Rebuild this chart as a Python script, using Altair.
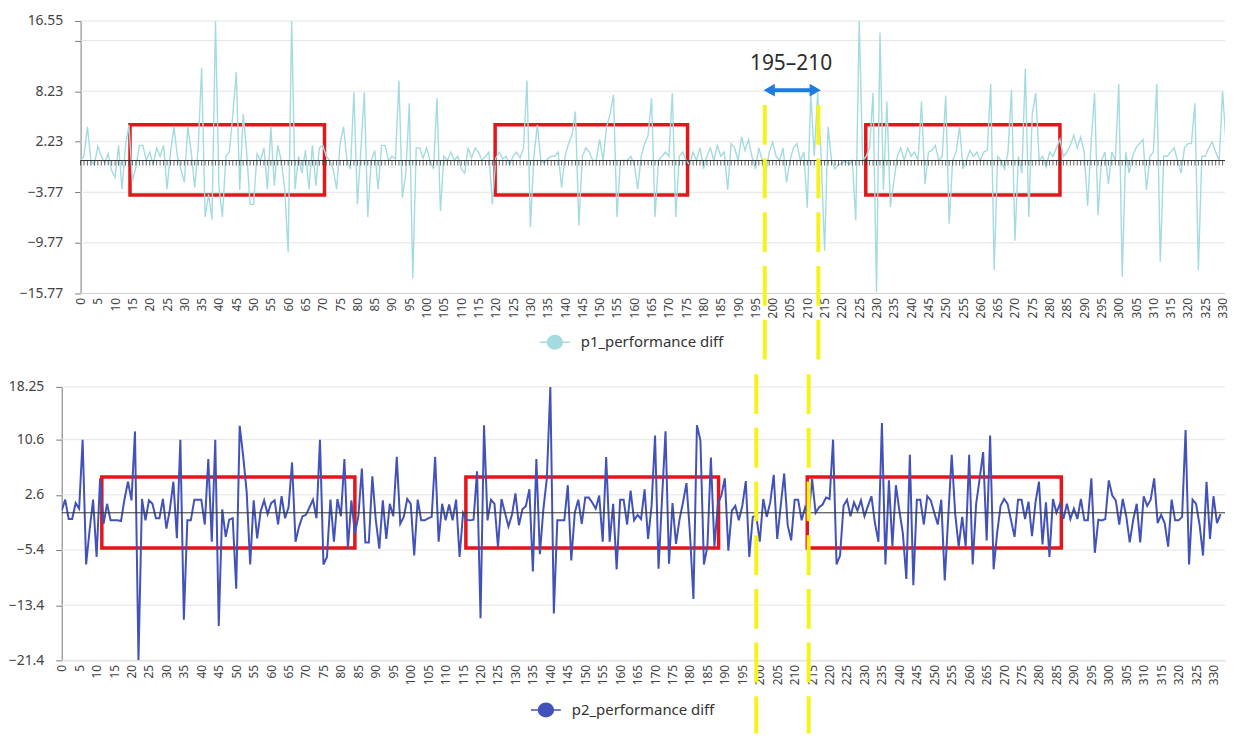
import altair as alt
import pandas as pd

# ---------------- data ----------------
P1 = [0.0, 0.5, 4.0, 0.0, -0.5, 1.7, 0.5, -0.3, 0.8, -1.2,
      -2.0, 1.8, -3.4, 1.8, 4.2, -2.4, -0.8, 1.8, 1.8, 0.0,
      1.0, -0.5, 1.5, 0.5, 1.8, -3.4, 1.0, 4.0, 0.5, -1.0,
      -2.6, 4.0, 1.0, -3.2, 1.5, 11.0, -6.7, -4.0, -7.0, 16.55,
      -3.2, -6.7, 0.5, 1.0, 5.4, 10.5, -3.5, 5.5, 1.0, -5.2,
      -5.2, 0.8, 0.0, 1.5, -3.4, 4.0, -3.0, 1.8, 0.0, -3.4,
      -10.9, 16.55, -3.4, 0.5, -1.5, 1.2, -3.4, 1.8, -3.0, 1.5,
      1.8, 0.5, 0.0, -1.0, -3.4, 2.0, 4.0, 0.0, -1.0, 8.1,
      -5.2, 1.2, 8.1, -6.7, 0.0, 1.2, -3.4, 1.8, 1.8, 0.0,
      0.5, 0.2, 9.5, -4.4, -1.5, 6.8, -14.0, 1.5, 1.5, 0.3,
      1.5, 0.0, -1.0, 7.4, -6.0, 0.5, 0.0, 1.0, 0.0, 0.5,
      -1.0, -1.5, 1.5, 0.3, 1.5, 1.0, 0.0, 0.5, 1.0, -5.2,
      0.3, 1.0, 0.2, 0.5, -0.5, 0.5, 1.0, 0.3, 1.5, 9.5,
      -7.9, 0.5, 4.2, 0.0, -0.3, 0.2, 0.5, 0.5, 1.0, -3.2,
      0.5, 2.0, 3.0, 5.8, -7.7, 0.5, 1.5, 1.0, 0.0, 0.0,
      2.5, 0.0, 4.0, 5.5, 7.8, -6.7, 0.0, 0.0, 0.0, 0.5,
      -0.5, -3.4, 0.5, 2.0, 3.0, 7.4, -6.7, 0.0, 0.5, 1.0,
      0.5, 8.0, -6.7, 0.5, 1.0, 0.0, -0.5, 1.0, 0.0, 1.5,
      -1.0, 0.5, 1.5, 0.0, 1.8, 0.5, 1.0, -3.5, 2.0, 1.5,
      0.0, 2.8, 1.2, 2.5, 0.5, -1.0, 1.5, 0.0, -1.5, 1.0,
      2.2, 0.5, 0.0, 1.5, -2.6, 0.0, 1.5, 2.0, 0.0, 1.0,
      -5.6, 8.0, 0.5, 8.0, 0.5, -10.7, 4.0, 0.0, -1.0, -0.5,
      -0.3, 0.0, -0.5, 0.0, -7.1, 16.55, 0.0, 0.5, 1.5, 8.0,
      -15.6, 15.2, -3.5, 7.0, -5.5, -2.5, 0.5, 1.5, 0.0, 1.5,
      0.5, 1.0, 0.0, 7.0, -2.8, 1.0, 1.2, 1.8, 0.0, 0.5,
      7.7, -7.5, 0.0, 1.0, 4.0, -1.0, 0.0, 1.2, 0.5, 1.0,
      0.0, 1.0, 1.2, 9.1, -13.0, 0.5, 0.0, -1.0, 1.0, 8.4,
      -9.5, 0.5, -1.5, 10.9, -6.7, 5.5, 8.0, 0.0, 0.5, -0.8,
      1.0, 0.5, 1.5, 2.5, 0.5, 1.0, 1.8, 3.0, 1.5, 2.8,
      1.0, -5.4, 2.0, 8.0, -6.5, 0.0, 1.0, -2.8, 1.0, 0.0,
      9.1, -13.8, 1.0, -1.5, 0.5, 1.5, 2.0, 2.5, -3.5, 0.5,
      1.0, 9.1, -12.0, 0.5, 0.5, 1.0, 1.5, 0.0, -1.5, 1.5,
      2.0, 2.0, 6.8, -13.0, 0.5, 0.5, 1.5, 2.2, 1.0, 0.0,
      8.2, 2.0, -6.0]

P2 = [0.3, 1.9, -0.9, -0.9, 1.4, 0.6, 10.6, -7.5, -2.5, 1.9,
      -6.4, 5.0, -1.6, 1.3, -1.1, -1.1, -1.1, -1.2, 2.0, 4.5,
      1.8, 11.8, -21.4, 2.0, -1.1, 1.8, 1.3, -0.8, -0.8, 2.0,
      -2.3, 0.5, 4.5, -3.7, 10.6, -15.5, -1.1, -1.1, 1.9, 1.9,
      1.9, -1.7, 7.8, -4.2, 10.6, -16.4, 0.5, -3.5, -1.0, -0.8,
      -11.0, 12.6, 8.2, 3.0, -7.5, 1.8, -3.7, 0.2, 1.8, -0.2,
      1.4, 1.8, -1.7, 2.4, -0.8, 0.8, 7.3, -4.2, -2.0, -0.5,
      -0.3, 0.8, 1.9, -0.8, 10.6, -7.5, -6.4, 1.9, -4.2, 2.0,
      -0.5, 7.8, -5.2, 1.8, -3.0, -0.5, 6.4, -4.3, -4.3, 5.3,
      -1.1, -5.2, 1.8, -3.8, 1.3, -0.5, 8.1, -1.6, -0.6, 2.0,
      1.3, -6.2, 1.9, -1.1, -1.1, -0.8, -0.6, 8.1, -4.2, 1.3,
      -1.1, 1.2, -1.1, 1.9, -6.4, 0.0, -1.0, -1.1, -1.0, 6.0,
      -15.3, 12.7, -1.1, 1.9, 1.3, -5.0, 2.0, 0.0, -2.0, -0.3,
      2.8, -1.8, 0.5, 1.0, 3.4, -8.5, 7.8, -6.0, 0.5, 5.0,
      18.25, -14.6, -1.1, -1.1, -1.1, 4.0, -6.9, 0.0, 1.9, -1.6,
      2.2, 2.2, 1.5, 0.6, 2.5, -4.2, 8.1, -4.2, 1.3, -8.2,
      1.9, 1.9, -1.7, 3.2, -1.1, -0.3, -0.9, 3.4, -3.8, 1.0,
      11.2, -8.1, 2.0, 11.8, -7.4, 1.4, -4.5, -1.0, 1.5, 4.3,
      -3.0, -12.5, 12.7, 10.5, -7.5, -4.9, 8.0, -4.9, 1.3, 2.5,
      5.0, -5.5, 0.3, 1.0, -1.1, 1.0, 4.6, -6.4, -0.6, -0.4,
      -4.2, 2.0, -0.6, 1.5, 5.5, -3.8, 1.0, 5.7, -1.8, -4.0,
      1.9, 1.9, -1.1, 0.8, -0.4, 4.9, 0.0, 0.8, 1.2, 2.2,
      2.0, 10.6, -7.5, -6.2, 1.0, 1.9, -0.5, 1.5, 0.3, 1.8,
      -0.5, 1.0, 2.4, -1.5, -4.2, 13.0, -7.5, 4.7, -4.9, 4.0,
      0.3, -3.0, -9.6, 8.4, -10.5, 1.9, 1.9, -1.7, 2.4, 1.8,
      0.0, -1.7, 1.9, -9.8, -0.6, 8.4, -0.2, -4.9, -0.6, -4.9,
      8.4, -7.5, 1.3, 4.9, 8.8, -4.0, 11.2, -8.2, -3.0, 1.0,
      2.0, 1.3, -1.1, -3.5, 1.9, 1.9, -0.9, 1.6, -3.4, 1.5,
      4.5, -4.6, 1.5, -6.4, 2.0, 0.0, 1.3, -0.9, 1.3, -0.9,
      0.6, -0.9, 2.0, -1.1, -1.1, 5.0, -5.8, -1.0, -1.1, -0.9,
      4.7, 2.5, 1.8, -1.7, 2.0, -0.5, -4.3, -1.0, 1.3, -4.3,
      2.4, 1.0, 1.9, 5.0, -1.5, -0.3, -1.5, -4.9, 1.9, -1.1,
      -1.1, -0.6, 12.0, -7.5, 1.9, 1.3, -1.7, -6.2, 4.5, -3.8,
      2.4, -1.5, -0.2]

P1_NAME = "p1_performance diff"
P2_NAME = "p2_performance diff"
X_TICKS = list(range(0, 331, 5))
P1_TICKS = [-15.77, -9.77, -3.77, 2.23, 8.23, 14.23, 16.55]
P2_TICKS = [-21.4, -13.4, -5.4, 2.6, 10.6, 18.25]
P1_X_DOMAIN = [-5.44, 330.7]
P2_X_DOMAIN = [0.0, 333.3]
P1_Y_DOMAIN = [-15.77, 16.55]
P2_Y_DOMAIN = [-21.4, 18.25]
P1_BOX_X0 = [14.3, 119.8, 226.9]
P1_BOX_X1 = [70.5, 175.4, 283.0]
P1_BOX_Y = [-4.1, 4.24]
P2_BOX_X0 = [11.5, 115.8, 213.6]
P2_BOX_X1 = [84.0, 188.2, 286.4]
P2_BOX_Y = [-5.1, 5.2]
P1_MARKER_X = [197.7, 213.2]
P2_MARKER_X = [199.0, 214.0]
P1_MARKER_Y = [6.6, -25.2]
P2_MARKER_Y = [20.1, -32.0]
ANNOT_TEXT = "195–210"
ANNOT_X = 205.3
ANNOT_Y = 11.4
ARROW_X = [199.0, 212.3]
ARROW_Y = 8.35

C1 = "#a4dbdf"
C2 = "#4252b8"
RED = "#e3161b"
YEL = "#f6f21c"
BLUE = "#1f7be0"
FONT = "Noto Sans"
SYM = "M-1,0L1,0M-0.5,0A0.5,0.45,0,1,0,0.5,0A0.5,0.45,0,1,0,-0.5,0Z"


def panel(values, name, color, xdom, ydom, ticks, box_x0, box_x1, box_y,
          marker_x, marker_y, width, height, yoffset, label_expr, legend_xy,
          zero_ticks, line_w, annotate, x_domain_line):
    n = len(values)
    xs = alt.Scale(domain=xdom, nice=False, zero=False)
    ys = alt.Scale(domain=ydom, nice=False, zero=False)
    x_end = xdom[1]
    xax = alt.Axis(values=X_TICKS, labelAngle=-90, domain=x_domain_line,
                   domainColor="#cfcfcf", ticks=False, grid=False, labelFontSize=12,
                   labelPadding=4, labelOverlap=False, labelFlush=False,
                   labelColor="#444", title=None)
    yax = alt.Axis(values=ticks, labelExpr=label_expr, grid=False,
                   domainColor="#7a7a7a", tickColor="#7a7a7a", tickSize=6,
                   labelPadding=12, offset=yoffset, labelFontSize=14,
                   labelColor="#444", title=None)

    def X(f):
        return alt.X(f, scale=xs, axis=xax, title=None)

    def Y(f):
        return alt.Y(f, scale=ys, axis=yax, title=None)

    line_df = pd.DataFrame({"x": list(range(n)), "v": values, "series": [name] * n})
    grid_df = pd.DataFrame({"v": ticks, "x0": [0.0] * len(ticks), "x1": [x_end] * len(ticks)})
    base_df = pd.DataFrame({"v": [ydom[0]], "x0": [0.0], "x1": [x_end]})
    box_df = pd.DataFrame({"x0": box_x0, "x1": box_x1,
                           "y0": [box_y[0]] * len(box_x0), "y1": [box_y[1]] * len(box_x0)})
    mark_df = pd.DataFrame({"x": marker_x, "y0": [marker_y[0]] * 2, "y1": [marker_y[1]] * 2})
    zero_df = pd.DataFrame({"v": [0.0], "x0": [0.0], "x1": [x_end]})

    grid = alt.Chart(grid_df).mark_rule(color="#e4e4e4", strokeWidth=1).encode(
        x=X("x0:Q"), x2="x1:Q", y=Y("v:Q"))
    layers = [grid]
    if not x_domain_line:
        layers.append(alt.Chart(base_df).mark_rule(color="#cfcfcf", strokeWidth=1).encode(
            x=X("x0:Q"), x2="x1:Q", y=Y("v:Q")))
    boxes = alt.Chart(box_df).mark_rect(fillOpacity=0, stroke=RED, strokeWidth=3.5).encode(
        x=X("x0:Q"), x2="x1:Q", y=Y("y0:Q"), y2="y1:Q")
    line = alt.Chart(line_df).mark_line(strokeWidth=line_w, clip=True).encode(
        x=X("x:Q"), y=Y("v:Q"),
        color=alt.Color("series:N", scale=alt.Scale(domain=[name], range=[color]),
                        legend=alt.Legend(title=None, orient="none", legendX=legend_xy[0],
                                          legendY=legend_xy[1], symbolType=SYM,
                                          symbolSize=900, symbolStrokeWidth=1.5,
                                          symbolFillColor=color, symbolStrokeColor=color,
                                          labelFontSize=15, labelColor="#333",
                                          labelFont=FONT, padding=0, labelOffset=10)))
    zero = alt.Chart(zero_df).mark_rule(color="#333333", strokeWidth=1).encode(
        x=X("x0:Q"), x2="x1:Q", y=Y("v:Q"))
    layers += [boxes, line, zero]
    if zero_ticks:
        tick_df = pd.DataFrame({"x": list(range(0, 331)), "v": [0.0] * 331})
        layers.append(alt.Chart(tick_df).mark_tick(orient="vertical", size=5, thickness=1,
                                                   color="#222222", yOffset=2.5).encode(
            x=X("x:Q"), y=Y("v:Q")))
    layers.append(alt.Chart(mark_df).mark_rule(color=YEL, strokeWidth=4,
                                               strokeDash=[40, 14], clip=False).encode(
        x=X("x:Q"), y=Y("y0:Q"), y2="y1:Q"))
    if annotate:
        arrow_df = pd.DataFrame({"x0": [ARROW_X[0] + 0.8], "x1": [ARROW_X[1] - 0.8],
                                 "v": [ARROW_Y]})
        head_df = pd.DataFrame({"x": ARROW_X, "v": [ARROW_Y] * 2,
                                "shape": ["triangle-left", "triangle-right"]})
        text_df = pd.DataFrame({"x": [ANNOT_X], "v": [ANNOT_Y], "t": [ANNOT_TEXT]})
        layers.append(alt.Chart(arrow_df).mark_rule(color=BLUE, strokeWidth=4).encode(
            x=X("x0:Q"), x2="x1:Q", y=Y("v:Q")))
        layers.append(alt.Chart(head_df).mark_point(filled=True, size=170, color=BLUE,
                                                    opacity=1).encode(
            x=X("x:Q"), y=Y("v:Q"),
            shape=alt.Shape("shape:N", scale=None, legend=None)))
        layers.append(alt.Chart(text_df).mark_text(fontSize=21, color="#2b2b2b",
                                                   font=FONT).encode(
            x=X("x:Q"), y=Y("v:Q"), text="t:N"))
    return alt.layer(*layers).properties(width=width, height=height)


top = panel(P1, P1_NAME, C1, P1_X_DOMAIN, P1_Y_DOMAIN, P1_TICKS, P1_BOX_X0, P1_BOX_X1,
            P1_BOX_Y, P1_MARKER_X, P1_MARKER_Y, 1170, 274, -19,
            "datum.value == 14.23 ? '' : format(datum.value, '.2f')", (480, 307), True, 1.4,
            True, False)
bottom = panel(P2, P2_NAME, C2, P2_X_DOMAIN, P2_Y_DOMAIN, P2_TICKS, P2_BOX_X0, P2_BOX_X1,
               P2_BOX_Y, P2_MARKER_X, P2_MARKER_Y, 1170, 275, 0,
               "format(datum.value, '.2~f')", (471, 309), False, 2.0, False, True)

chart = alt.vconcat(top, bottom, spacing=94, bounds="flush").resolve_scale(
    color="independent", shape="independent", x="independent", y="independent"
).properties(
    padding={"left": 0, "top": 4, "right": 0, "bottom": 0}
).configure(font=FONT).configure_view(stroke=None).configure_axis(labelFont=FONT)

chart.save("out.html", embed_options={"renderer": "svg", "actions": False})
